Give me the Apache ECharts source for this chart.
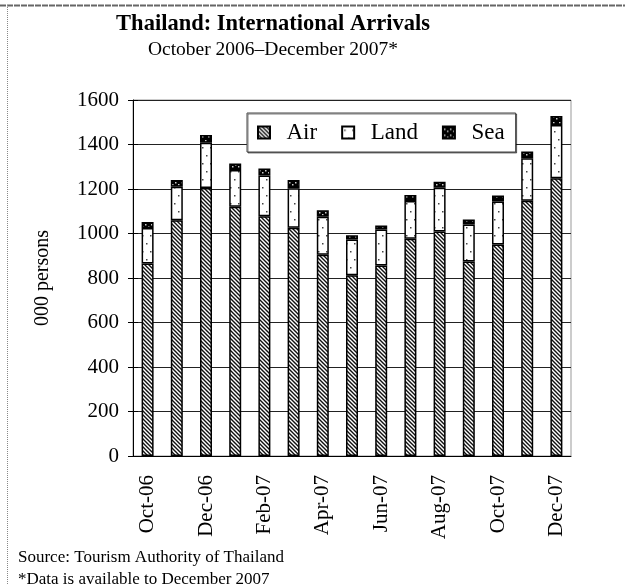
<!DOCTYPE html>
<html>
<head>
<meta charset="utf-8">
<script src="https://cdn.jsdelivr.net/npm/echarts@6/dist/echarts.min.js"></script>
<style>
  html, body { margin: 0; padding: 0; background: #fff; }
  #chart { width: 625px; height: 585px; }
</style>
</head>
<body>
<div id="chart"></div>
<script>
// months shown on the x axis
var months = ["Oct-06", "Nov-06", "Dec-06", "Jan-07", "Feb-07", "Mar-07", "Apr-07", "May-07",
  "Jun-07", "Jul-07", "Aug-07", "Sep-07", "Oct-07", "Nov-07", "Dec-07"];
// arrivals, 000 persons
var air = [865, 1060, 1204, 1120, 1078, 1026, 905, 812, 856, 976, 1009, 874, 951, 1147, 1248];
var land = [160, 150, 204, 165, 183, 177, 170, 161, 162, 170, 197, 167, 193, 191, 240];
var sea = [27, 30, 35, 30, 31, 37, 29, 19, 18, 27, 27, 22, 27, 30, 40];

var FONT = "Liberation Serif";

// fill patterns, like the old excel print
function makePattern(w, h, draw) {
  var c = document.createElement("canvas");
  c.width = w;
  c.height = h;
  draw(c.getContext("2d"));
  return { image: c, repeat: "repeat" };
}
var airFill = makePattern(4, 4, function (ctx) {
  ctx.fillStyle = "#fff";
  ctx.fillRect(0, 0, 4, 4);
  ctx.strokeStyle = "#111";
  ctx.lineWidth = 1.4;
  ctx.beginPath();
  ctx.moveTo(-1, -1); ctx.lineTo(5, 5);
  ctx.moveTo(-1, 3); ctx.lineTo(1, 5);
  ctx.moveTo(3, -1); ctx.lineTo(5, 1);
  ctx.stroke();
});
var landFill = makePattern(8, 16, function (ctx) {
  ctx.fillStyle = "#fff";
  ctx.fillRect(0, 0, 8, 16);
  ctx.fillStyle = "#444";
  ctx.fillRect(2, 3, 1.5, 1.5);
  ctx.fillRect(6, 11, 1.5, 1.5);
});
var seaFill = makePattern(6, 6, function (ctx) {
  ctx.fillStyle = "#000";
  ctx.fillRect(0, 0, 6, 6);
  ctx.fillStyle = "#ccc";
  ctx.fillRect(1, 2, 1.5, 1.5);
  ctx.fillRect(4, 4, 1.5, 1.5);
});

function barSeries(name, data, fill) {
  return {
    name: name,
    type: "bar",
    stack: "total",
    barWidth: 12,
    data: data,
    itemStyle: {
      color: fill,
      borderColor: "#000",
      borderWidth: 1.5
    }
  };
}

var chart = echarts.init(document.getElementById("chart"));
var options = {
  backgroundColor: "#fff",
  animation: false,
  title: {
    text: "Thailand: International Arrivals",
    subtext: "October 2006\u2013December 2007*",
    left: 268,
    textAlign: "center",
    top: 8,
    itemGap: 4,
    textStyle: { fontFamily: FONT, fontWeight: "bold", fontSize: 22.5, color: "#000" },
    subtextStyle: { fontFamily: FONT, fontSize: 19.5, color: "#000" }
  },
  legend: {
    left: 247,
    top: 113,
    padding: [8, 11, 8, 10],
    itemGap: 24,
    itemWidth: 12,
    itemHeight: 12,
    icon: "rect",
    backgroundColor: "#fff",
    borderColor: "#444",
    borderWidth: 1,
    shadowColor: "rgba(0,0,0,0.5)",
    shadowOffsetX: 1,
    shadowOffsetY: 1,
    data: ["Air", "Land", "Sea"],
    formatter: function (name) { return "  " + name; },
    textStyle: { fontFamily: FONT, fontSize: 23, color: "#000" }
  },
  grid: {
    left: 133,
    right: 54,
    top: 100,
    bottom: 129,
    show: true,
    borderColor: "#999",
    borderWidth: 1
  },
  xAxis: {
    type: "category",
    data: months,
    axisLine: { lineStyle: { color: "#000", width: 1 } },
    axisTick: { interval: 1, length: 5, lineStyle: { color: "#000" } },
    axisLabel: {
      interval: 1,
      rotate: 90,
      margin: 19,
      fontFamily: FONT,
      fontSize: 21,
      color: "#000"
    }
  },
  yAxis: [
    {
      type: "value",
      min: 0,
      max: 1600,
      interval: 200,
      name: "000 persons",
      nameLocation: "middle",
      nameRotate: 90,
      nameGap: 80,
      nameTextStyle: { fontFamily: FONT, fontSize: 20, color: "#000" },
      axisLine: { show: true, lineStyle: { color: "#000", width: 1 } },
      axisTick: { show: true, length: 5, lineStyle: { color: "#000" } },
      axisLabel: {
        margin: 14,
        fontFamily: FONT,
        fontSize: 21,
        color: "#000",
        formatter: function (v) { return String(v); }
      },
      splitLine: { lineStyle: { color: "#222", width: 1 } }
    },
    {
      // second copy only to draw the inner half of the crossing ticks
      type: "value",
      position: "left",
      min: 0,
      max: 1600,
      interval: 200,
      axisLine: { show: false },
      axisTick: { show: true, inside: true, length: 5, lineStyle: { color: "#000" } },
      axisLabel: { show: false },
      splitLine: { show: false }
    }
  ],
  graphic: [
    { type: "line", shape: { x1: 0, y1: 5.5, x2: 625, y2: 5.5 }, style: { stroke: "#666", lineWidth: 2, lineDash: [6, 1] } },
    { type: "line", shape: { x1: 7.5, y1: 5, x2: 7.5, y2: 585 }, style: { stroke: "#888", lineWidth: 1, lineDash: [1, 1] } },
    { type: "text", left: 18, top: 549, style: { text: "Source: Tourism Authority of Thailand", font: "17px " + FONT, fill: "#000" } },
    { type: "text", left: 18, top: 571, style: { text: "*Data is available to December 2007", font: "17px " + FONT, fill: "#000" } }
  ],
  series: [
    barSeries("Air", air, airFill),
    barSeries("Land", land, landFill),
    barSeries("Sea", sea, seaFill)
  ]
};
chart.setOption(options);
</script>
</body>
</html>
